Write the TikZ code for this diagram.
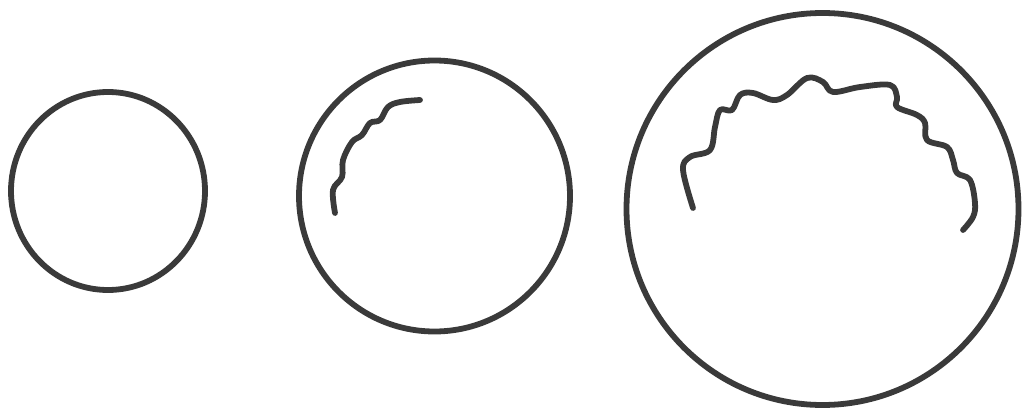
\documentclass[tikz,border=0pt]{standalone}
\usepackage{tikz}
\definecolor{ink}{HTML}{3A3A3A}

\begin{document}
\begin{tikzpicture}[
    x=0.02cm,y=-0.02cm,
    bubble/.style={draw=ink,line width=3.3pt},
    wrinkle/.style={draw=ink,line width=3.3pt,line cap=round,line join=round},
]
\useasboundingbox (0,0) rectangle (1024,412);
% small, medium and large circle
\draw[bubble] (108,191) ellipse (97 and 99);
\draw[bubble] (434.5,196) circle (135.5);
\draw[bubble] (822.5,209) circle (196);

% wavy line in the medium circle
\draw[wrinkle] plot[smooth,tension=0.6] coordinates {
    (335,213) (333,190) (342,177) (343,160) (352,142) (362,135)
    (370,123) (380,120) (388,107) (400,102) (420,100)};

% wavy line in the large circle
\draw[wrinkle] plot[smooth,tension=0.6] coordinates {
    (693,208) (683,170) (690,157) (710,150) (715,127) (720,110)
    (732,110) (740,95) (753,93) (773,100) (787,95) (807,78)
    (823,82) (833,92) (860,87) (890,85) (897,97) (897,107)
    (917,115) (925,123) (927,140) (947,147) (953,160) (957,173)
    (970,180) (975,203) (973,217) (963,230)};
\end{tikzpicture}
\end{document}
